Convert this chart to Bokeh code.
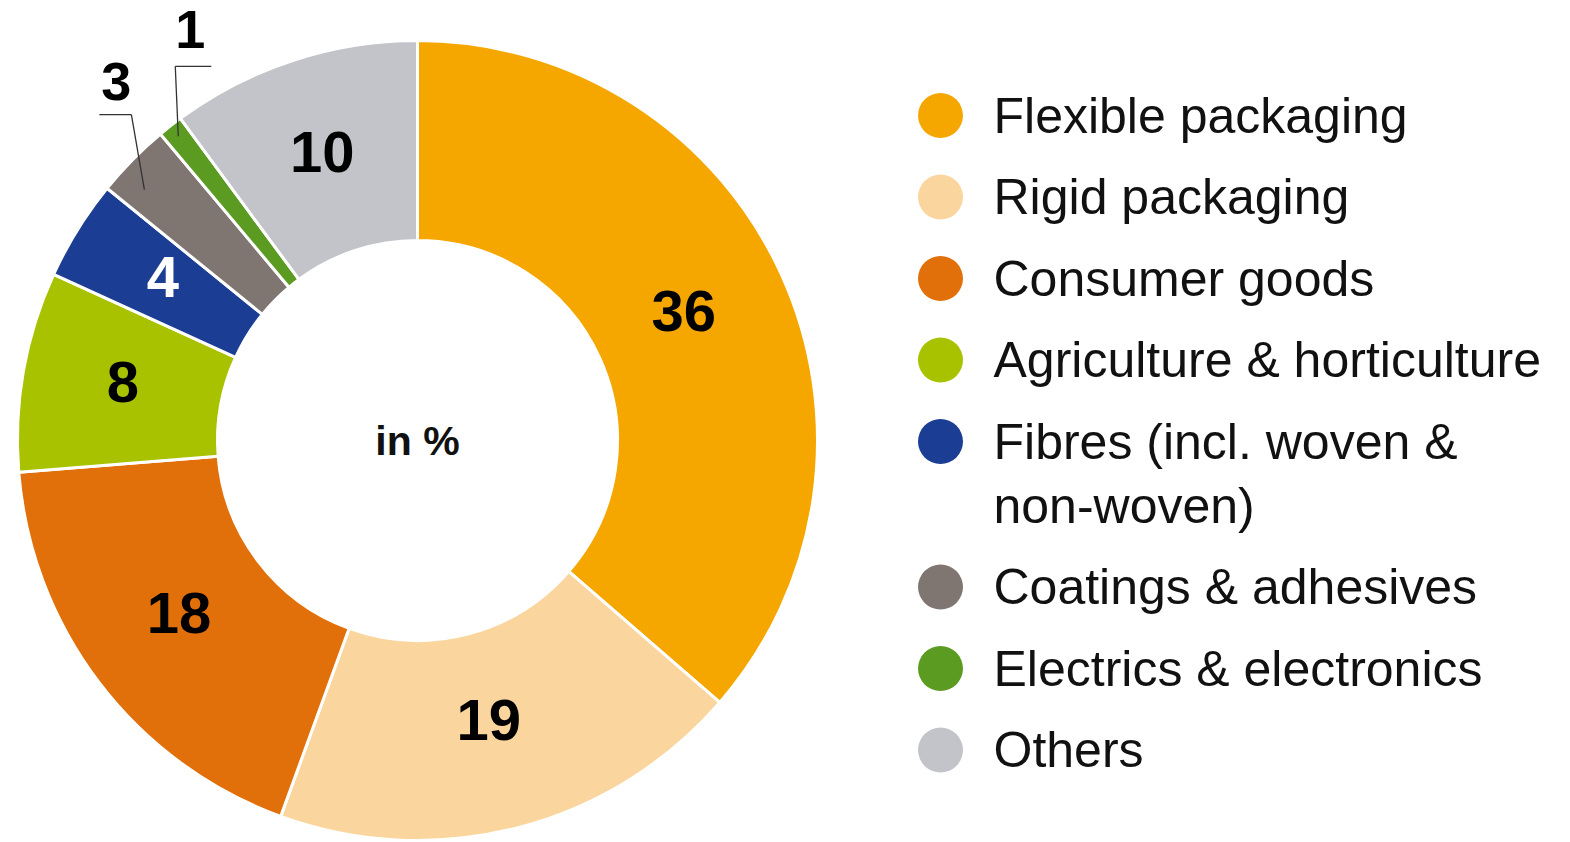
import numpy as np
from bokeh.plotting import figure
from bokeh.models import Range1d, ColumnDataSource
from bokeh.core.properties import value
from bokeh.embed import file_html
from bokeh.resources import INLINE

categories = ["Flexible packaging", "Rigid packaging", "Consumer goods",
              "Agriculture & horticulture", "Fibres (incl. woven &\nnon-woven)",
              "Coatings & adhesives", "Electrics & electronics", "Others"]
values = [36, 19, 18, 8, 4, 3, 1, 10]
colors = ["#F5A700", "#FAD59E", "#E2700A", "#A8C200", "#1B3E94",
          "#7F7672", "#5B9B22", "#C2C4C9"]
label_colors = ["black", "black", "black", "black", "white", "black", "black", "black"]
center_text = "in %"

W, H = 1570, 842
cx, cy = 417, H - 440
r_out, r_in = 400, 200
r_lab = 296
FONT = "Liberation Sans"

vals = np.array(values, dtype=float)
total = vals.sum()
cum = np.cumsum(vals)
prev = cum - vals
start = np.pi / 2 - 2 * np.pi * prev / total
end = np.pi / 2 - 2 * np.pi * cum / total
mid = (start + end) / 2

p = figure(width=W, height=H, x_range=Range1d(0, W), y_range=Range1d(0, H),
           output_backend="svg", toolbar_location=None, min_border=0)
p.axis.visible = False
p.grid.visible = False
p.outline_line_color = None
p.background_fill_color = "white"
p.border_fill_color = "white"

src = ColumnDataSource(dict(start=start, end=end, color=colors))
p.annular_wedge(x=cx, y=cy, inner_radius=r_in, outer_radius=r_out,
                start_angle="start", end_angle="end", direction="clock",
                fill_color="color", line_color="white", line_width=3, source=src)

# labels inside (big slices)
inside = [i for i, v in enumerate(values) if v >= 4]
lx = [cx + r_lab * np.cos(mid[i]) - 3 for i in inside]
ly = [cy + r_lab * np.sin(mid[i]) + 7 for i in inside]
p.text(x=lx, y=ly, text=[str(values[i]) for i in inside],
       text_color=[label_colors[i] for i in inside],
       text_font=value(FONT), text_font_style="bold", text_font_size="58px",
       text_align="center", text_baseline="middle")

# small slices: leader lines + outside labels
small = [i for i, v in enumerate(values) if v < 4]
for i in small:
    if values[i] == 3:
        r = 372
        x0 = cx + r * np.cos(mid[i]) - 8
        y0 = cy + r * np.sin(mid[i]) - 10
        ex, ey = 130 + (x0 - x0), y0 + 75
        ex = x0 - 13
        hx = [ex - 32, ex]
        tx, ty = ex - 15, ey + 33
    else:
        r = 387
        x0 = cx + r * np.cos(mid[i])
        y0 = cy + r * np.sin(mid[i])
        ex, ey = x0 - 3, y0 + 70
        hx = [ex, ex + 36]
        tx, ty = ex + 15, ey + 37
    p.line(x=[x0, ex], y=[y0, ey], line_color="#333333", line_width=1.3)
    p.line(x=hx, y=[ey, ey], line_color="#333333", line_width=1.3)
    p.text(x=[tx], y=[ty], text=[str(values[i])], text_color="black",
           text_font=value(FONT), text_font_style="bold", text_font_size="54px",
           text_align="center", text_baseline="middle")

p.text(x=[cx], y=[cy], text=[center_text], text_color="#111111",
       text_font=value(FONT), text_font_style="bold", text_font_size="41px",
       text_align="center", text_baseline="middle")

# legend
leg_x_dot, leg_x_text = 940, 993
y_top = H - 115
step = 81.5
line_gap = 64
ys_dot, txt_x, txt_y, txt = [], [], [], []
y = y_top
for cat in categories:
    lines = cat.split("\n")
    ys_dot.append(y)
    for k, ln in enumerate(lines):
        txt_x.append(leg_x_text)
        txt_y.append(y - k * line_gap)
        txt.append(ln)
    y -= step + (len(lines) - 1) * line_gap

p.scatter(x=[leg_x_dot] * len(categories), y=ys_dot, size=45, marker="circle",
          fill_color=colors, line_color=None)
p.text(x=txt_x, y=txt_y, text=txt, text_color="#111111",
       text_font=value(FONT), text_font_size="50px",
       text_align="left", text_baseline="middle")

open("out.html", "w").write(file_html(p, INLINE))
